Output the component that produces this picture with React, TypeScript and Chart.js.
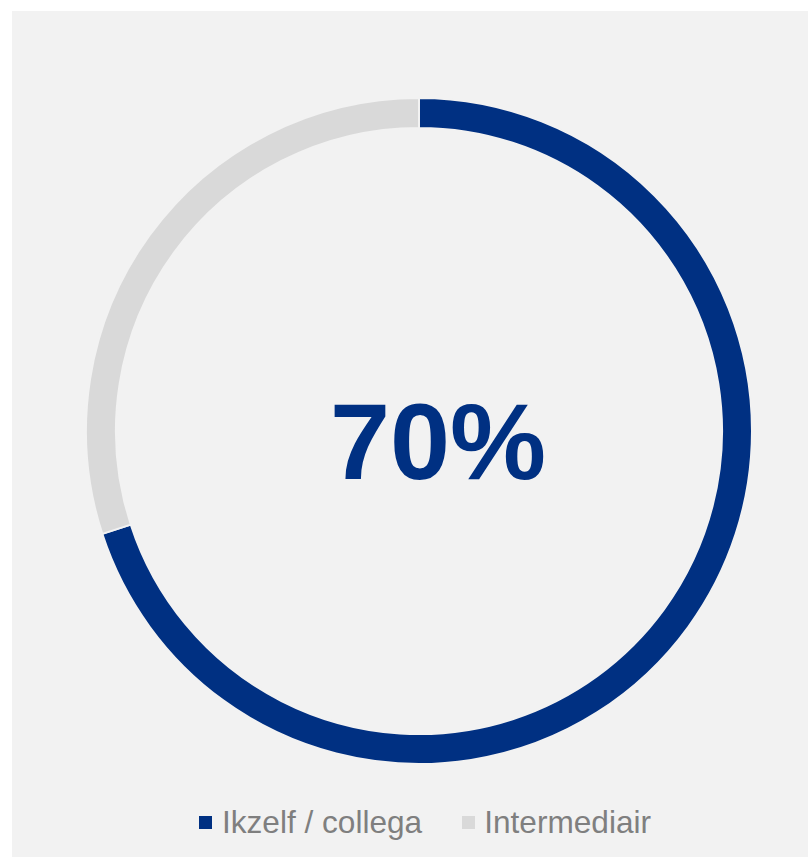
import React, { useEffect, useRef } from "react";
import { Chart, registerables } from "chart.js";

Chart.register(...registerables);

const categories = ["Ikzelf / collega", "Intermediair"];
const values = [70, 30];
const colors = ["#003082", "#d9d9d9"];
const centerLabel = "70%";

const centerTextPlugin = {
  id: "centerText",
  afterDraw(chart: any) {
    const meta = chart.getDatasetMeta(0);
    const arc = meta.data[0];
    if (!arc) return;
    const { x, y } = arc;
    const ctx = chart.ctx;
    ctx.save();
    ctx.font = "bold 108px 'Liberation Sans', Arial, sans-serif";
    ctx.fillStyle = "#003082";
    ctx.textAlign = "center";
    ctx.textBaseline = "alphabetic";
    ctx.fillText(centerLabel, x + 19, y + 48);
    ctx.restore();
  },
};

export default function App() {
  const ref = useRef<HTMLCanvasElement>(null);
  useEffect(() => {
    if (!ref.current) return;
    const chart = new Chart(ref.current, {
      type: "doughnut",
      data: {
        labels: categories,
        datasets: [
          {
            data: values,
            backgroundColor: colors,
            borderColor: "#f2f2f2",
            borderWidth: 2,
          },
        ],
      },
      options: {
        animation: false,
        responsive: false,
        cutout: "91%",
        plugins: {
          legend: { display: false },
          tooltip: { enabled: false },
        },
      },
      plugins: [centerTextPlugin],
    });
    return () => chart.destroy();
  }, []);

  const font = "'Liberation Sans', Arial, sans-serif";
  return (
    <div
      style={{
        position: "absolute",
        left: 12,
        top: 11,
        width: 796,
        height: 846,
        background: "#f2f2f2",
        overflow: "hidden",
      }}
    >
      <canvas
        ref={ref}
        width={668}
        height={668}
        style={{ position: "absolute", left: 73, top: 86, width: 668, height: 668 }}
      />
      <div
        style={{
          position: "absolute",
          left: 187,
          top: 795,
          display: "flex",
          alignItems: "center",
          fontFamily: font,
          fontSize: 31.6,
          lineHeight: "32px",
          color: "#7f7f7f",
          whiteSpace: "nowrap",
        }}
      >
        {categories.map((c, i) => (
          <div
            key={c}
            style={{ display: "flex", alignItems: "center", marginRight: i === 0 ? 40 : 0 }}
          >
            <span
              style={{
                display: "inline-block",
                width: 13,
                height: 13,
                background: colors[i],
                marginRight: i === 0 ? 10 : 9,
              }}
            />
            <span>{c}</span>
          </div>
        ))}
      </div>
    </div>
  );
}
